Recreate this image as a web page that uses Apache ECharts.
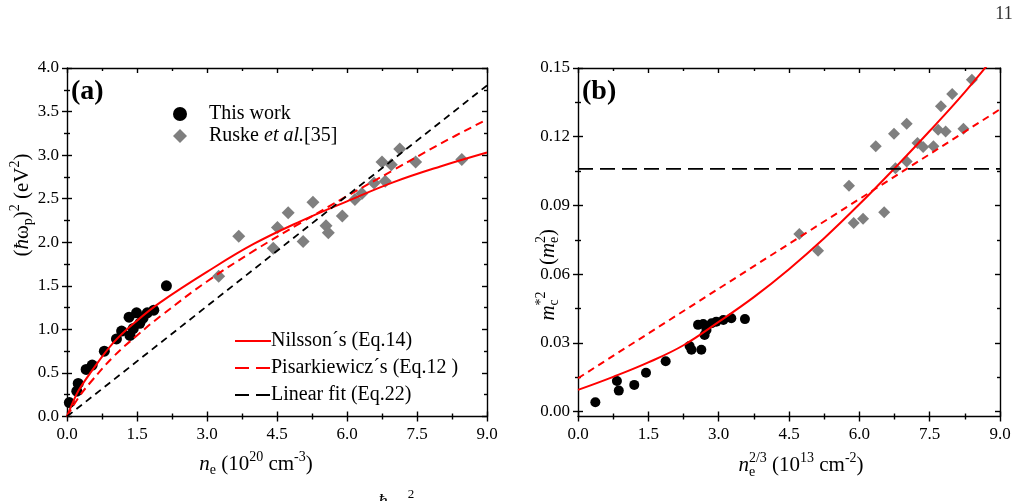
<!DOCTYPE html>
<html><head><meta charset="utf-8">
<script src="https://cdn.jsdelivr.net/npm/echarts@6/dist/echarts.min.js"></script>
<style>html,body{margin:0;padding:0;background:#fff}#c{width:1019px;height:501px}</style>
</head><body><div id="c"></div>
<script>
// ---------- data ----------
// panel (a): (hbar omega_p)^2 vs n_e
const aThisX = [0.05,0.21,0.24,0.41,0.54,0.80,1.06,1.17,1.33,1.49,1.35,1.42,1.56,1.63,1.72,1.86,2.13];
const aThisY = [0.16,0.29,0.38,0.54,0.59,0.75,0.89,0.98,1.14,1.19,0.93,1.01,1.07,1.13,1.19,1.22,1.50];
const aRuskeX = [3.25,3.68,4.42,4.51,4.74,5.06,5.27,5.55,5.60,5.90,6.17,6.32,6.58,6.75,6.82,6.95,7.13,7.47,8.46];
const aRuskeY = [1.61,2.07,1.93,2.17,2.34,2.01,2.46,2.19,2.11,2.30,2.49,2.56,2.68,2.92,2.70,2.89,3.07,2.92,2.95];
const aNilX = [0,0.1,0.25,0.5,1,1.5,2,3,4,5,6,7,8,9];
const aNilY = [0,0.13,0.30,0.50,0.85,1.10,1.31,1.66,1.98,2.24,2.47,2.69,2.87,3.03];
const aPisX = [0,0.25,0.5,1,1.5,2,3,4,5,6,7,8,9];
const aPisY = [0,0.22,0.39,0.69,0.93,1.15,1.55,1.90,2.22,2.53,2.83,3.13,3.41];
const aLinX = [0,9];
const aLinY = [0,3.80];
// panel (b): m*c^2 vs n_e^(2/3)
const bThisX = [0.37,0.83,0.87,1.20,1.45,1.87,2.38,2.42,2.63,2.56,2.70,2.74,2.67,2.85,2.95,3.10,3.27,3.56];
const bThisY = [0.0041,0.0134,0.0092,0.0117,0.0170,0.0220,0.0287,0.0270,0.0270,0.0379,0.0335,0.0357,0.0383,0.0386,0.0393,0.0400,0.0408,0.0404];
const bRuskeX = [4.72,5.12,5.78,5.88,6.08,6.35,6.53,6.74,6.77,7.01,7.01,7.24,7.36,7.58,7.68,7.74,7.84,7.98,8.22,8.40];
const bRuskeY = [0.0775,0.0702,0.0986,0.0823,0.0842,0.1158,0.0870,0.1213,0.1063,0.1257,0.1092,0.1173,0.1155,0.1158,0.1231,0.1333,0.1223,0.1387,0.1235,0.1449];
const bNilX = [0,0.75,1.5,2.25,3.0,3.75,4.5,5.25,6.0,6.75,7.5,8.25,9.0];
const bNilY = [0.0095,0.0152,0.0215,0.0290,0.0392,0.0500,0.0622,0.0757,0.0905,0.1062,0.1225,0.1395,0.1580];
const bPisX = [0,3,6,9];
const bPisY = [0.0146,0.0537,0.0928,0.1320];
const bLevX = [0,9];
const bLevY = [0.106,0.106];
// ticks
const bMajor = [0,0.03,0.06,0.09,0.12,0.15];
const bMinor = [0.015,0.045,0.075,0.105,0.135];
const bYMin = -0.0021;

const NILS = 'Nilsson\u00b4s (Eq.14)';
const PISA = 'Pisarkiewicz\u00b4s (Eq.12 )';
const LINF = 'Linear fit (Eq.22)';

// ---------- helpers ----------
const FONT = '"Liberation Serif", "Times New Roman", serif';
const AX = { color: '#000', width: 1.4 };
const zip = (xs, ys) => xs.map((x, i) => [x, ys[i]]);

function axis(g, pos, min, max, interval, o) {
  const a = {
    gridIndex: g, type: 'value', position: pos, min: min, max: max,
    splitLine: { show: false }, minorSplitLine: { show: false },
    axisLine: { show: !!o.line, onZero: false, lineStyle: AX },
    axisTick: { show: true, inside: !!o.inside, length: o.len || 5, lineStyle: AX },
    minorTick: { show: !!o.minor, splitNumber: 2, length: 3, lineStyle: AX },
    axisLabel: { show: false }
  };
  if (interval !== undefined) a.interval = interval;
  if (o.tickValues) a.axisTick.customValues = o.tickValues;
  if (o.label) {
    a.axisLabel = { show: true, color: '#000', fontFamily: FONT, fontSize: 17, margin: o.margin, formatter: o.fmt };
    if (o.labelValues) a.axisLabel.customValues = o.labelValues;
  }
  return a;
}
const f1 = v => v.toFixed(1);
const f2 = v => v.toFixed(2);

const measureCtx = document.createElement('canvas').getContext('2d');
function titleGroup(cx, cy, rotate, base, pieces) {
  let x = 0, pend = 0;
  const children = [];
  pieces.forEach(p => {
    const size = p.s || base;
    const font = (p.i ? 'italic ' : '') + size + 'px "Liberation Serif"';
    measureCtx.font = font;
    const w = measureCtx.measureText(p.t).width;
    children.push({ type: 'text', x: x, y: p.dy || 0,
      style: { text: p.t, font: font, fill: '#000', textAlign: 'left', align: 'left', textVerticalAlign: 'middle', verticalAlign: 'middle' } });
    if (p.stack) { pend = Math.max(pend, w); } else { x += Math.max(w, pend); pend = 0; }
  });
  children.forEach(c => { c.x -= x / 2; });
  return { type: 'group', x: cx, y: cy, rotation: rotate ? Math.PI / 2 : 0, silent: true, children: children };
}

const lineBase = { type: 'line', symbol: 'none', showSymbol: false, smooth: 0.4, z: 4, clip: true };
const noSym = { opacity: 0, color: 'rgba(0,0,0,0)', borderWidth: 0 };

const option = {
  animation: false,
  backgroundColor: '#fff',
  grid: [
    { left: 67, top: 68, width: 420, height: 348.5 },
    { left: 578, top: 68, width: 422, height: 348.5 }
  ],
  xAxis: [
    axis(0, 'bottom', 0, 9, 1.5, { line: 1, inside: false, minor: 1, label: 1, fmt: f1, margin: 10 }),
    axis(0, 'bottom', 0, 9, 1.5, { inside: true, minor: 1 }),
    axis(0, 'top', 0, 9, 1.5, { line: 1, inside: true, minor: 1 }),
    axis(1, 'bottom', 0, 9, 1.5, { line: 1, inside: false, minor: 1, label: 1, fmt: f1, margin: 10 }),
    axis(1, 'bottom', 0, 9, 1.5, { inside: true, minor: 1 }),
    axis(1, 'top', 0, 9, 1.5, { line: 1, inside: true, minor: 1 })
  ],
  yAxis: [
    axis(0, 'left', 0, 4, 0.5, { line: 1, inside: false, minor: 1, label: 1, fmt: f1, margin: 8 }),
    axis(0, 'left', 0, 4, 0.5, { inside: true, minor: 1 }),
    axis(0, 'right', 0, 4, 0.5, { line: 1, inside: true, minor: 1 }),
    axis(1, 'left', bYMin, 0.15, undefined, { line: 1, inside: false, tickValues: bMajor, label: 1, labelValues: bMajor, fmt: f2, margin: 8 }),
    axis(1, 'left', bYMin, 0.15, undefined, { inside: true, tickValues: bMajor }),
    axis(1, 'left', bYMin, 0.15, undefined, { inside: false, len: 3, tickValues: bMinor }),
    axis(1, 'left', bYMin, 0.15, undefined, { inside: true, len: 3, tickValues: bMinor }),
    axis(1, 'right', bYMin, 0.15, undefined, { line: 1, inside: true, tickValues: bMajor }),
    axis(1, 'right', bYMin, 0.15, undefined, { inside: true, len: 3, tickValues: bMinor })
  ],
  legend: [
    {
      data: ['This work', 'Ruske'], orient: 'vertical', left: 168, top: 99,
      itemWidth: 14, itemHeight: 14, itemGap: 2, selectedMode: false,
      formatter: n => n === 'Ruske' ? '{n|Ruske }{i|et al.}{n|[35]}' : '{n|This work}',
      textStyle: { color: '#000', fontFamily: FONT, fontSize: 20, padding: [0, 0, 0, 17],
        rich: { n: { fontFamily: FONT, fontSize: 20, color: '#000' }, i: { fontFamily: FONT, fontSize: 20, fontStyle: 'italic', color: '#000' } } }
    },
    {
      data: [
        { name: NILS, itemStyle: noSym },
        { name: PISA, itemStyle: noSym, lineStyle: { type: [14, 7] } },
        { name: LINF, itemStyle: noSym, lineStyle: { type: [14, 7] } }
      ],
      orient: 'vertical', left: 229, top: 326, itemWidth: 36, itemHeight: 14, itemGap: 7, selectedMode: false,
      itemStyle: noSym,
      textStyle: { color: '#000', fontFamily: FONT, fontSize: 20, padding: [0, 0, 0, -5] }
    }
  ],
  series: [
    { name: 'This work', type: 'scatter', xAxisIndex: 0, yAxisIndex: 0, data: zip(aThisX, aThisY), symbol: 'circle', symbolSize: 11, itemStyle: { color: '#000', opacity: 1 }, z: 3 },
    { name: 'Ruske', type: 'scatter', xAxisIndex: 0, yAxisIndex: 0, data: zip(aRuskeX, aRuskeY), symbol: 'diamond', symbolSize: 13, itemStyle: { color: '#7f7f7f', opacity: 1 }, z: 3 },
    Object.assign({}, lineBase, { name: NILS, xAxisIndex: 0, yAxisIndex: 0, data: zip(aNilX, aNilY), lineStyle: { color: '#ff0000', width: 2 }, itemStyle: { color: '#ff0000' } }),
    Object.assign({}, lineBase, { name: PISA, xAxisIndex: 0, yAxisIndex: 0, data: zip(aPisX, aPisY), lineStyle: { color: '#ff0000', width: 2, type: [8, 5] }, itemStyle: { color: '#ff0000' } }),
    Object.assign({}, lineBase, { name: LINF, xAxisIndex: 0, yAxisIndex: 0, smooth: false, data: zip(aLinX, aLinY), lineStyle: { color: '#000', width: 1.8, type: [7, 5] }, itemStyle: { color: '#000' } }),

    { name: 'b This work', type: 'scatter', xAxisIndex: 3, yAxisIndex: 3, data: zip(bThisX, bThisY), symbol: 'circle', symbolSize: 10, itemStyle: { color: '#000', opacity: 1 }, z: 3 },
    { name: 'b Ruske', type: 'scatter', xAxisIndex: 3, yAxisIndex: 3, data: zip(bRuskeX, bRuskeY), symbol: 'diamond', symbolSize: 12, itemStyle: { color: '#7f7f7f', opacity: 1 }, z: 3 },
    Object.assign({}, lineBase, { name: 'b Nilsson', xAxisIndex: 3, yAxisIndex: 3, data: zip(bNilX, bNilY), lineStyle: { color: '#ff0000', width: 2 } }),
    Object.assign({}, lineBase, { name: 'b Pisarkiewicz', xAxisIndex: 3, yAxisIndex: 3, smooth: false, data: zip(bPisX, bPisY), lineStyle: { color: '#ff0000', width: 2, type: [7, 5] } }),
    Object.assign({}, lineBase, { name: 'b level', xAxisIndex: 3, yAxisIndex: 3, smooth: false, data: zip(bLevX, bLevY), lineStyle: { color: '#000', width: 1.8, type: [15, 7] } })
  ],
  graphic: [
    { type: 'text', left: 71, top: 78, silent: true, style: { text: '(a)', font: 'bold 28px "Liberation Serif"', fill: '#000' } },
    { type: 'text', left: 582, top: 78, silent: true, style: { text: '(b)', font: 'bold 28px "Liberation Serif"', fill: '#000' } },
    { type: 'text', x: 1004, y: 14, silent: true, style: { text: '11', font: '18px "Liberation Serif"', fill: '#333', textAlign: 'center', align: 'center', textVerticalAlign: 'middle', verticalAlign: 'middle' } },
    titleGroup(256, 464, false, 21, [
      { t: 'n', i: 1 }, { t: 'e', s: 14, dy: 6 }, { t: ' (10' }, { t: '20', s: 14, dy: -7 }, { t: ' cm' }, { t: '-3', s: 14, dy: -7 }, { t: ')' }
    ]),
    titleGroup(801, 465, false, 21, [
      { t: 'n', i: 1 }, { t: 'e', s: 14, dy: 7, stack: 1 }, { t: '2/3', s: 14, dy: -7 }, { t: ' (10' }, { t: '13', s: 14, dy: -7 }, { t: ' cm' }, { t: '-2', s: 14, dy: -7 }, { t: ')' }
    ]),
    titleGroup(22, 205, true, 21, [
      { t: '(' }, { t: '\u0127', i: 1 }, { t: '\u03c9' }, { t: 'p', s: 14, dy: 6 }, { t: ')' }, { t: '2', s: 14, dy: -7 }, { t: ' (eV' }, { t: '2', s: 14, dy: -7 }, { t: ')' }
    ]),
    titleGroup(548, 306, true, 21, [
      { t: 'm', i: 1 }, { t: 'c', s: 14, dy: 6, stack: 1 }, { t: '*2', s: 14, dy: -7 }
    ]),
    titleGroup(548, 247, true, 21, [
      { t: '(' }, { t: 'm', i: 1 }, { t: 'e', s: 14, dy: 6, stack: 1 }, { t: '2', s: 14, dy: -7 }, { t: ')' }
    ]),
    { type: 'text', x: 383, y: 492, silent: true, style: { text: '\u0127', font: 'italic 19px "Liberation Serif"', fill: '#000', textAlign: 'center', align: 'center', textVerticalAlign: 'top', verticalAlign: 'top' } },
    { type: 'text', x: 411, y: 488, silent: true, style: { text: '2', font: '13px "Liberation Serif"', fill: '#000', textAlign: 'center', align: 'center', textVerticalAlign: 'top', verticalAlign: 'top' } }
  ]
};

const chart = echarts.init(document.getElementById('c'), null, { renderer: 'canvas' });
chart.setOption(option);
</script>
</body></html>
